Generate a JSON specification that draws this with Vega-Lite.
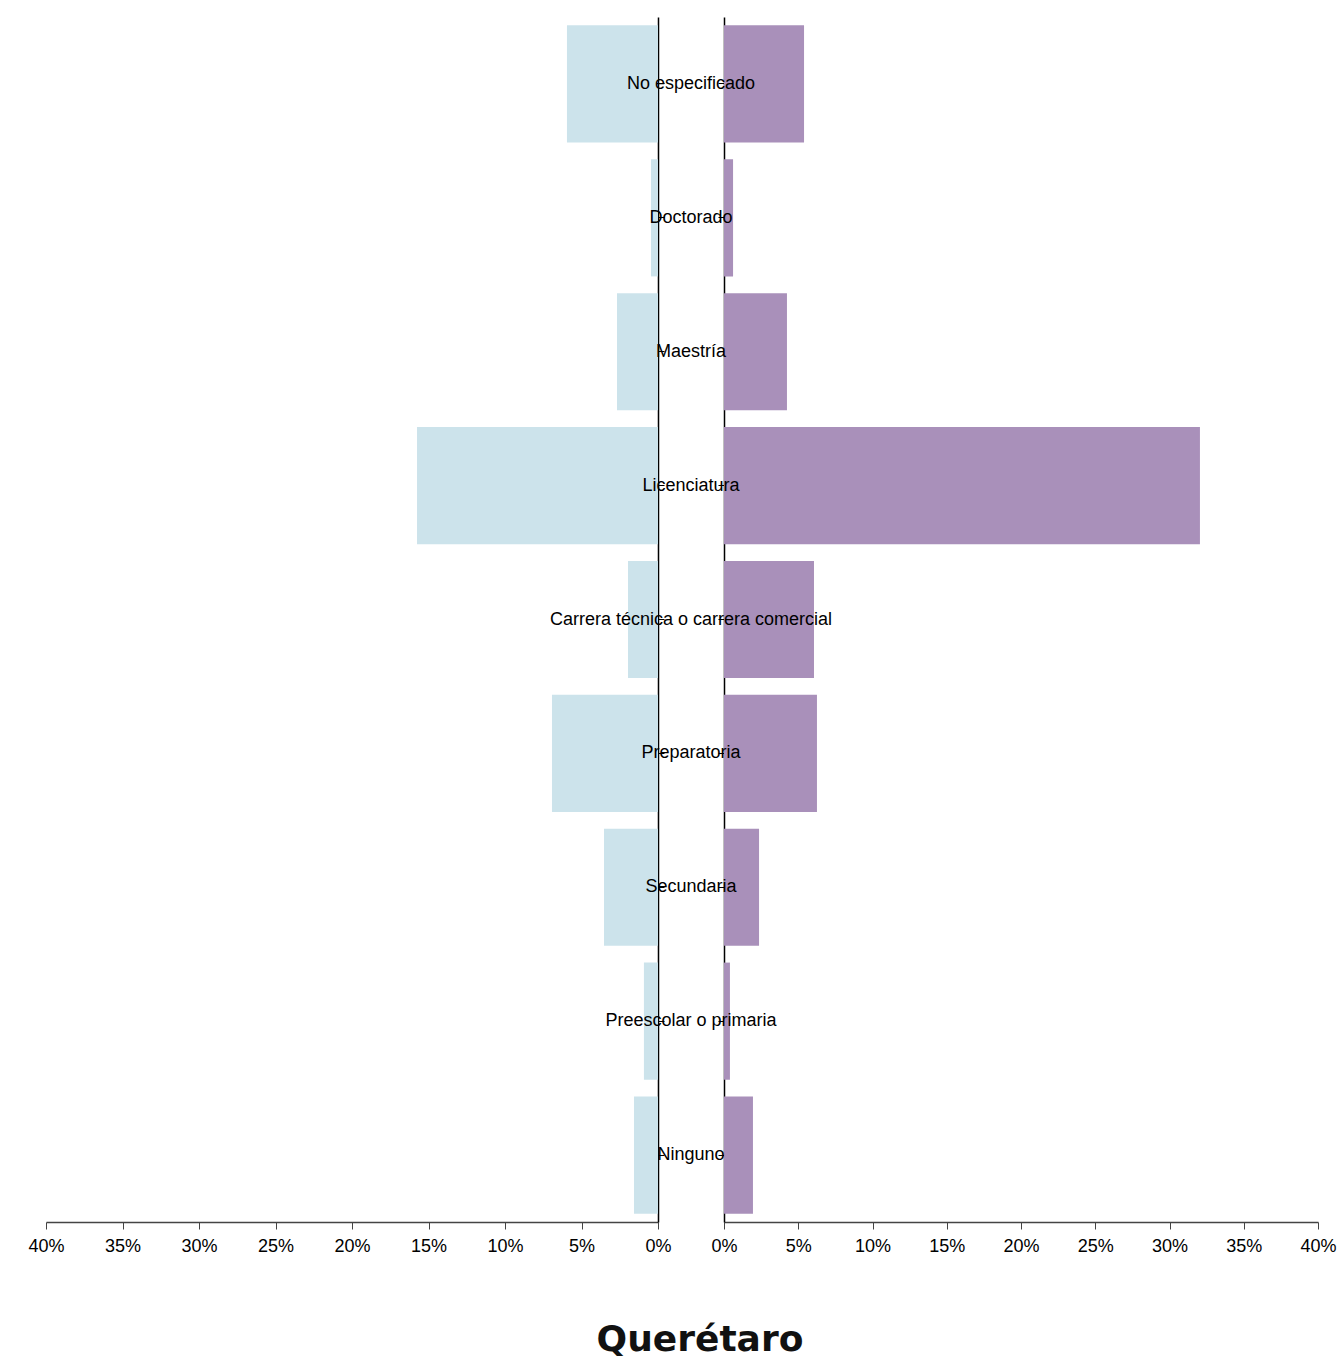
{
  "$schema": "https://vega.github.io/schema/vega-lite/v6.json",
  "padding": {"left": 27, "top": 17, "right": 5, "bottom": 5},
  "background": "#ffffff",
  "title": {"text": "Querétaro", "orient": "bottom", "anchor": "middle", "font": "DejaVu Sans", "fontSize": 36, "fontWeight": "bold", "color": "#111111", "offset": 68, "dx": 18},
  "datasets": {
    "d": [
      {"nivel": "No especificado", "izquierda": 5.95, "derecha": 5.39},
      {"nivel": "Doctorado", "izquierda": 0.46, "derecha": 0.61},
      {"nivel": "Maestría", "izquierda": 2.68, "derecha": 4.24},
      {"nivel": "Licenciatura", "izquierda": 15.75, "derecha": 32.05},
      {"nivel": "Carrera técnica o carrera comercial", "izquierda": 1.96, "derecha": 6.06},
      {"nivel": "Preparatoria", "izquierda": 6.93, "derecha": 6.26},
      {"nivel": "Secundaria", "izquierda": 3.53, "derecha": 2.36},
      {"nivel": "Preescolar o primaria", "izquierda": 0.92, "derecha": 0.4},
      {"nivel": "Ninguno", "izquierda": 1.57, "derecha": 1.95}
    ]
  },
  "data": {"name": "d"},
  "spacing": 66,
  "bounds": "flush",
  "config": {
    "view": {"stroke": null},
    "axis": {"labelFont": "Liberation Sans", "labelFontSize": 18, "labelColor": "#000000", "grid": false, "labelFlush": false}
  },
  "hconcat": [
    {
      "width": 612,
      "height": 1205,
      "mark": {"type": "bar", "color": "#cce3eb"},
      "encoding": {
        "y": {"field": "nivel", "type": "nominal", "sort": null,
              "scale": {"paddingInner": 0.125, "paddingOuter": 0.0625},
              "axis": {"orient": "right", "labels": false, "title": null, "domainColor": "#000000", "tickColor": "#000000", "tickSize": 6, "domainWidth": 1.5}},
        "x": {"field": "izquierda", "type": "quantitative",
              "scale": {"domain": [0, 40], "reverse": true},
              "axis": {"values": [0, 5, 10, 15, 20, 25, 30, 35, 40], "labelExpr": "datum.value + '%'", "title": null, "tickSize": 7, "labelPadding": 8, "domainColor": "#444444", "tickColor": "#444444", "domainWidth": 1.5}}
      }
    },
    {
      "width": 594,
      "height": 1205,
      "encoding": {
        "y": {"field": "nivel", "type": "nominal", "sort": null,
              "scale": {"paddingInner": 0.125, "paddingOuter": 0.0625},
              "axis": {"orient": "left", "labels": false, "title": null, "domainColor": "#000000", "tickColor": "#000000", "tickSize": 6, "domainWidth": 1.5}}
      },
      "layer": [
        {
          "mark": {"type": "bar", "color": "#a990ba"},
          "encoding": {
            "x": {"field": "derecha", "type": "quantitative",
                  "scale": {"domain": [0, 40]},
                  "axis": {"values": [0, 5, 10, 15, 20, 25, 30, 35, 40], "labelExpr": "datum.value + '%'", "title": null, "tickSize": 7, "labelPadding": 8, "domainColor": "#444444", "tickColor": "#444444", "domainWidth": 1.5}}
          }
        },
        {
          "mark": {"type": "text", "font": "Liberation Sans", "fontSize": 18, "color": "#000000", "align": "center", "baseline": "middle", "dx": -33},
          "encoding": {
            "x": {"datum": 0, "type": "quantitative"},
            "text": {"field": "nivel"}
          }
        }
      ]
    }
  ]
}
